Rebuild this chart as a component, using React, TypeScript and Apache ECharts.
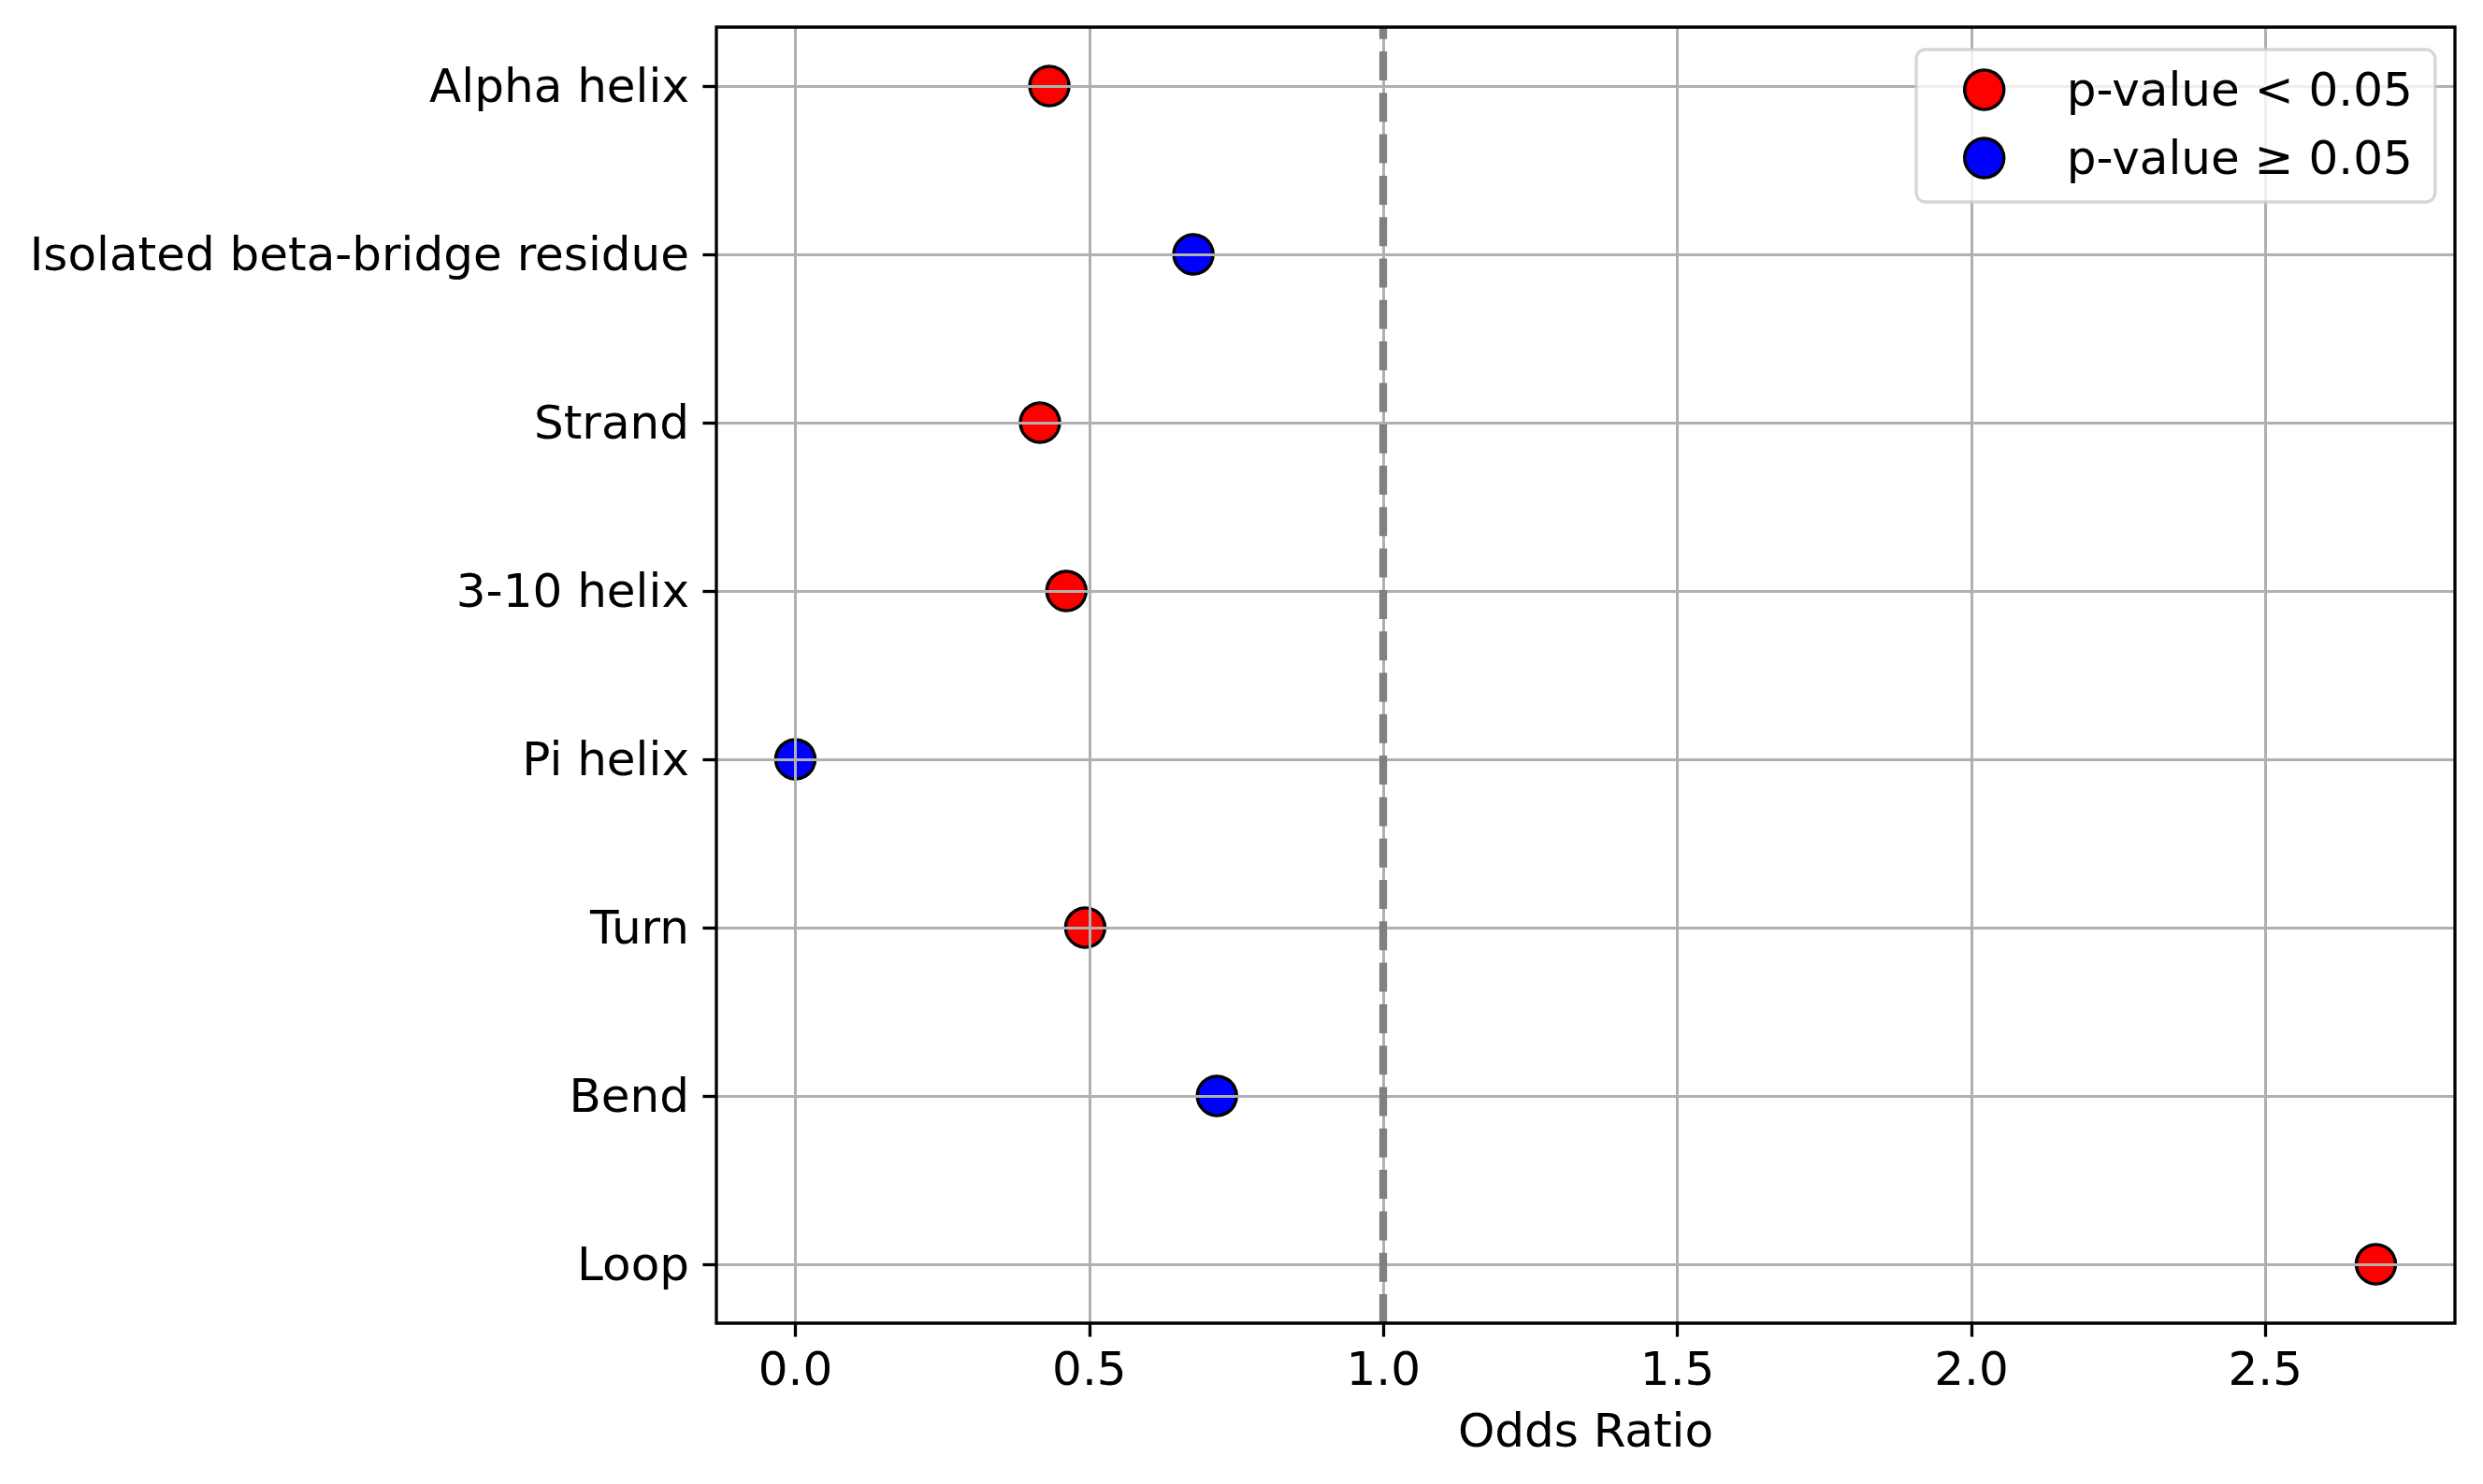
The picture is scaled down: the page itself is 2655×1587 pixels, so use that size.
import React, { useEffect, useRef } from "react";
import * as echarts from "echarts";

// ---------- data ----------
const categories = [
  "Alpha helix",
  "Isolated beta-bridge residue",
  "Strand",
  "3-10 helix",
  "Pi helix",
  "Turn",
  "Bend",
  "Loop",
];
const oddsRatios = [0.432, 0.677, 0.416, 0.461, 0.0, 0.493, 0.717, 2.688];
const significant = [true, false, true, true, false, true, false, true];
const seriesNames = ["p-value < 0.05", "p-value \u2265 0.05"];
const seriesColors = ["#ff0000", "#0000ff"];
const xTickMin = 0;
const xTickMax = 2.5;
const xTickStep = 0.5;
const referenceLine = 1.0;
const xAxisTitle = "Odds Ratio";

// ---------- layout ----------
const W = 2655;
const H = 1587;
const FRAME = { left: 766, top: 29, right: 2625, bottom: 1415 };
const FONT = "DejaVu Sans";
const FS = 50;

export default function App() {
  const ref = useRef<HTMLDivElement>(null);

  useEffect(() => {
    document.body.style.margin = "0";
    const chart = echarts.init(ref.current!, null, { renderer: "svg" });

    // matplotlib-like 5% margins derived from the data
    const dMin = Math.min(...oddsRatios);
    const dMax = Math.max(...oddsRatios);
    const xr = dMax - dMin;
    const xMin = dMin - 0.05 * xr;
    const xMax = dMax + 0.05 * xr;
    const yMin = -0.05 * (categories.length - 1);
    const yMax = categories.length - 1 + 0.05 * (categories.length - 1);

    const fw = FRAME.right - FRAME.left;
    const fh = FRAME.bottom - FRAME.top;
    const ppuX = fw / (xMax - xMin);
    const ppuY = fh / (yMax - yMin);

    const tickGridLeft = FRAME.left + (xTickMin - xMin) * ppuX;
    const tickGridRight = W - (FRAME.left + (xTickMax - xMin) * ppuX);
    const rowGridTop = FRAME.top + (0 - yMin) * ppuY;
    const rowGridBottom = H - (FRAME.top + (categories.length - 1 - yMin) * ppuY);
    const rowAxisOffset = FRAME.bottom - (H - rowGridBottom);

    const makeData = (flag: boolean) =>
      categories
        .map((_, i) => (significant[i] === flag ? [oddsRatios[i], i] : null))
        .filter((d) => d !== null);

    const option: any = {
      animation: false,
      textStyle: { fontFamily: FONT, color: "#000" },
      grid: [
        {
          left: tickGridLeft,
          right: tickGridRight,
          top: FRAME.top,
          bottom: H - FRAME.bottom,
        },
        {
          left: FRAME.left,
          right: W - FRAME.right,
          top: rowGridTop,
          bottom: rowGridBottom,
        },
      ],
      xAxis: [
        {
          gridIndex: 0,
          type: "value",
          position: "bottom",
          min: xTickMin,
          max: xTickMax,
          interval: xTickStep,
          z: 3,
          axisLine: { show: false, onZero: false },
          axisTick: {
            show: true,
            inside: false,
            length: 14.6,
            lineStyle: { color: "#000", width: 3.3 },
          },
          axisLabel: {
            show: true,
            margin: 24,
            fontSize: FS,
            fontFamily: FONT,
            color: "#000",
            formatter: (v: number) => v.toFixed(1),
          },
          splitLine: {
            show: true,
            lineStyle: { color: "#b0b0b0", width: 3 },
          },
        },
        {
          gridIndex: 1,
          type: "value",
          position: "bottom",
          min: xMin,
          max: xMax,
          offset: rowAxisOffset,
          axisLine: { show: false, onZero: false },
          axisTick: { show: false },
          axisLabel: { show: false },
          splitLine: { show: false },
          name: xAxisTitle,
          nameLocation: "middle",
          nameGap: 90,
          nameTextStyle: { fontSize: FS, fontFamily: FONT, color: "#000" },
        },
      ],
      yAxis: [
        {
          gridIndex: 0,
          type: "value",
          min: 0,
          max: 1,
          show: false,
          axisLine: { onZero: false },
        },
        {
          gridIndex: 1,
          type: "value",
          position: "left",
          min: 0,
          max: categories.length - 1,
          interval: 1,
          inverse: true,
          z: 3,
          axisLine: { show: false, onZero: false },
          axisTick: {
            show: true,
            inside: false,
            length: 14.6,
            lineStyle: { color: "#000", width: 3.3 },
          },
          axisLabel: {
            show: true,
            margin: 29,
            fontSize: FS,
            fontFamily: FONT,
            color: "#000",
            formatter: (v: number) => categories[Math.round(v)] ?? "",
          },
          splitLine: {
            show: true,
            lineStyle: { color: "#b0b0b0", width: 3 },
          },
        },
      ],
      legend: {
        data: seriesNames,
        left: 2049,
        top: 53,
        orient: "vertical",
        padding: [18, 24, 22, 50],
        itemGap: 23,
        itemWidth: 42,
        itemHeight: 42,
        icon: "circle",
        backgroundColor: "rgba(255,255,255,0.8)",
        borderColor: "rgba(204,204,204,0.8)",
        borderWidth: 3.3,
        borderRadius: 10,
        z: 5,
        itemStyle: { borderColor: "#000", borderWidth: 3.5 },
        textStyle: {
          fontSize: FS,
          fontFamily: FONT,
          color: "#000",
          lineHeight: 42,
          padding: [0, 0, 0, 62],
        },
      },
      graphic: [
        {
          type: "rect",
          z: 10,
          silent: true,
          shape: { x: FRAME.left, y: FRAME.top, width: fw, height: fh },
          style: { fill: "none", stroke: "#000", lineWidth: 3.3 },
        },
      ],
      series: [
        ...[true, false].map((flag, k) => ({
          name: seriesNames[k],
          type: "scatter",
          xAxisIndex: 1,
          yAxisIndex: 1,
          z: 1,
          clip: false,
          symbol: "circle",
          symbolSize: 42,
          itemStyle: {
            color: seriesColors[k],
            borderColor: "#000",
            borderWidth: 3.5,
            opacity: 1,
          },
          data: makeData(flag),
        })),
        {
          name: "reference",
          type: "line",
          xAxisIndex: 0,
          yAxisIndex: 0,
          z: 4,
          data: [],
          markLine: {
            silent: true,
            symbol: ["none", "none"],
            label: { show: false },
            lineStyle: { color: "#808080", width: 8.3, type: [31, 13.3], opacity: 1 },
            data: [{ xAxis: referenceLine }],
          },
        },
      ],
    };

    chart.setOption(option);
    return () => chart.dispose();
  }, []);

  return <div ref={ref} style={{ width: W, height: H }} />;
}
